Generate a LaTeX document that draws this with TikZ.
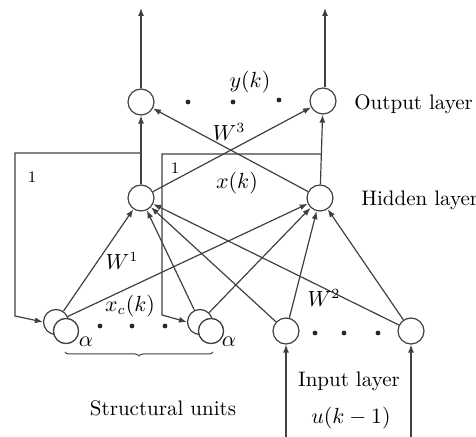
\documentclass[tikz,border=0pt]{standalone}
\usepackage{fontspec}
\usetikzlibrary{arrows.meta,decorations.pathreplacing,calc}
\begin{document}
\begin{tikzpicture}[x=0.5pt,y=-0.5pt,
  lin/.style={draw=black!75, line width=0.6pt},
  arr/.style={lin,-{Latex[length=4pt,width=3pt]}},
  neuron/.style={circle,draw=black!75,line width=0.6pt,fill=white,minimum size=13pt,inner sep=0pt},
  sunit/.style={neuron,minimum size=12.5pt},
  lbl/.style={font=\rmfamily\fontsize{10.5}{12.5}\selectfont, inner sep=0pt},
  dotn/.style={circle,fill=black!85,inner sep=0pt,minimum size=2.4pt}]
\useasboundingbox (0,0) rectangle (476,437);
% neurons
\node[neuron] (O1) at (141,102) {};
\node[neuron] (O2) at (323,101) {};
\node[neuron] (H1) at (141,198) {};
\node[neuron] (H2) at (320,198) {};
\node[sunit] (S1b) at (56,322) {};
\node[sunit] (S1f) at (66,331) {};
\node[sunit] (S2b) at (200,322) {};
\node[sunit] (S2f) at (211,331) {};
\node[neuron] (I1) at (286,331) {};
\node[neuron] (I2) at (411,331) {};
% free ends
\coordinate (t1) at (141,8);
\coordinate (t2) at (325,8);
\coordinate (b1) at (286,437);
\coordinate (b2) at (411,437);
\coordinate (f1a) at (141,153);
\coordinate (f1b) at (15,153);
\coordinate (f1c) at (15,316);
\coordinate (f2a) at (321.5,154);
\coordinate (f2b) at (162,154);
\coordinate (f2c) at (162,315);
% output arrows
\draw[arr] (O1) -- (t1);
\draw[arr] (O2.north -| t2) -- (t2);
% input arrows
\draw[arr] (b1) -- (I1);
\draw[arr] (b2) -- (I2);
% hidden -> output
\draw[arr] (H1) -- (O1);
\draw[arr] (H2) -- (O2);
\draw[arr] (H1) -- (O2);
\draw[arr] (H2) -- (O1);
% structural/input -> hidden
\draw[arr] (S1b) -- (H1);
\draw[arr] (S2b) -- (H1);
\draw[arr] (I1) -- (H1);
\draw[arr] (I2) -- (H1);
\draw[arr] (S1b) -- (H2);
\draw[arr] (S2b) -- (H2);
\draw[arr] (I1) -- (H2);
\draw[arr] (I2) -- (H2);
% feedback
\draw[arr] (f1a) -- (f1b) -- (f1c) -- (S1b.west);
\draw[arr] (f2a) -- (f2b) -- (f2c) -- (S2b.west);
% redraw front units on top
\node[sunit] (S1f') at (66,331) {};
\node[sunit] (S2f') at (211,331) {};
% dots
\node[dotn] (d1) at (188,102) {};
\node[dotn] (d2) at (233,102) {};
\node[dotn] (d3) at (279,100) {};
\node[dotn] (d4) at (100,326) {};
\node[dotn] (d5) at (132,326) {};
\node[dotn] (d6) at (165,326) {};
\node[dotn] (d7) at (315,333) {};
\node[dotn] (d8) at (344,333) {};
\node[dotn] (d9) at (378,333) {};
% brace
\coordinate (br1) at (65,352);
\coordinate (br2) at (213,352);
\draw[lin,line width=0.5pt,decorate,decoration={brace,amplitude=2pt,mirror}] (br1) -- (br2);
% labels
\node[lbl] (lyk) at (250,82) {$y(k)$};
\node[lbl] (lw3) at (229,132) {$W^3$};
\node[lbl] (lxk) at (237,183) {$x(k)$};
\node[lbl,font=\rmfamily\fontsize{8}{9}\selectfont] (lone1) at (32,177) {1};
\node[lbl,font=\rmfamily\fontsize{8}{9}\selectfont] (lone2) at (175,168) {1};
\node[lbl] (lw1) at (122,261) {$W^1$};
\node[lbl] (lxc) at (130,306) {$x_c(k)$};
\node[lbl] (la1) at (86,342) {$\alpha$};
\node[lbl] (la2) at (229,342) {$\alpha$};
\node[lbl] (lw2) at (324,298) {$W^2$};
\node[lbl,anchor=west] (lout) at (354,104) {Output layer};
\node[lbl,anchor=west] (lhid) at (361,200) {Hidden layer};
\node[lbl] (linp) at (349,381) {Input layer};
\node[lbl] (lu) at (351,418) {$u(k-1)$};
\node[lbl] (lsu) at (163,408) {Structural units};
\end{tikzpicture}
\end{document}
